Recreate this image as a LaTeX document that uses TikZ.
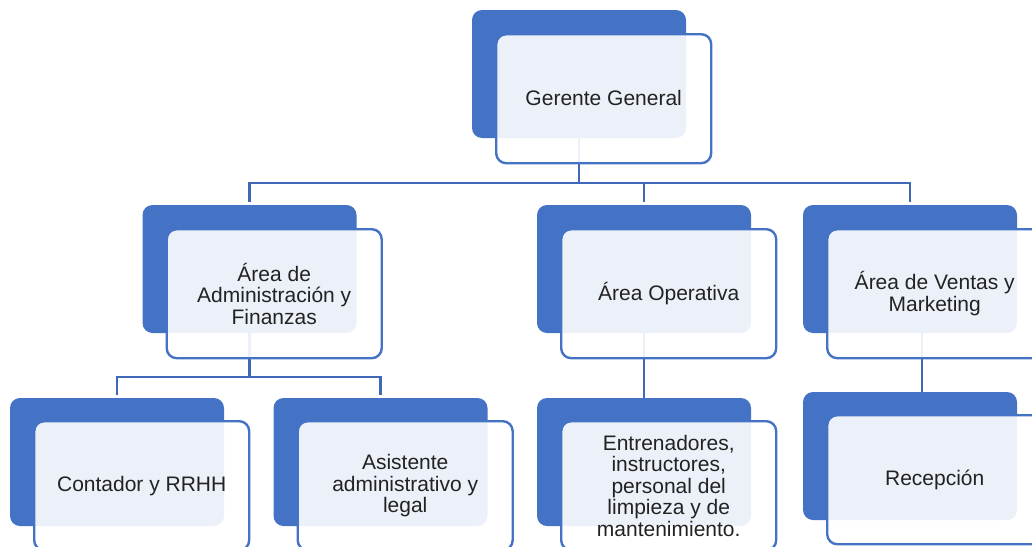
\documentclass[tikz,border=0pt]{standalone}
\usepackage{fontspec}
\setmainfont{Liberation Sans}
\usepackage{xcolor}
\usetikzlibrary{positioning}
\definecolor{boxblue}{HTML}{4472C4}
\definecolor{lineblue}{HTML}{4068B8}
\definecolor{textgray}{HTML}{222222}

\begin{document}
\begin{tikzpicture}[x=1pt, y=-1pt,
back/.style={rectangle, fill=boxblue, rounded corners=10pt, minimum width=214pt, minimum height=128pt, inner sep=0pt, outer sep=0pt},
front/.style={rectangle, draw=boxblue, line width=2.4pt, fill=white, fill opacity=0.9, text opacity=1, text=textgray, rounded corners=10pt, minimum width=215pt, minimum height=129pt, inner sep=0pt, align=center, font=\fontsize{21pt}{21.5pt}\selectfont},
conn/.style={draw=lineblue, line width=2.6pt, shorten >=3pt}
]
	\useasboundingbox (0,0) rectangle (1032,546);

	\node[back] (b1) at (579,74) {};
	\node[back] (b2) at (249.5,269) {};
	\node[back] (b3) at (644,269) {};
	\node[back] (b4) at (910,269) {};
	\node[back] (b5) at (117,462) {};
	\node[back] (b6) at (380.5,462) {};
	\node[back] (b7) at (644,462) {};
	\node[back] (b8) at (910,456) {};

	\coordinate (j1) at ([yshift=-45pt]b1.south);
	\coordinate (j2) at ([yshift=-44pt]b2.south);
	\draw[conn, shorten >=0pt] (b1.south) -- (j1);
	\draw[conn] (j1) -| (b2.north);
	\draw[conn] (j1) -| (b3.north);
	\draw[conn] (j1) -| (b4.north);
	\draw[conn, shorten >=0pt] (b2.south) -- (j2);
	\draw[conn] (j2) -| (b5.north);
	\draw[conn] (j2) -| (b6.north);
	\draw[conn, shorten >=0pt] (b3.south) -- (b7.north);
	\draw[conn, shorten >=0pt] ([xshift=12pt]b4.south) -- ([xshift=12pt]b8.north);

	\node[front, anchor=north west, shift={(23pt,-23pt)}] (n1) at (b1.north west) {\raisebox{2pt}{Gerente General}};
	\node[front, anchor=north west, shift={(23pt,-23pt)}] (n2) at (b2.north west) {Área de\\Administración y\\Finanzas};
	\node[front, anchor=north west, shift={(23pt,-23pt)}] (n3) at (b3.north west) {\raisebox{2pt}{Área Operativa}};
	\node[front, anchor=north west, shift={(23pt,-23pt)}] (n4) at (b4.north west) {Área de Ventas y\\Marketing};
	\node[front, anchor=north west, shift={(23pt,-22pt)}] (n5) at (b5.north west) {Contador y RRHH};
	\node[front, anchor=north west, shift={(23pt,-22pt)}] (n6) at (b6.north west) {Asistente\\administrativo y\\legal};
	\node[front, anchor=north west, shift={(23pt,-22pt)}] (n7) at (b7.north west) {Entrenadores,\\instructores,\\personal del\\limpieza y de\\mantenimiento.};
	\node[front, anchor=north west, shift={(23pt,-22pt)}] (n8) at (b8.north west) {Recepción};
\end{tikzpicture}
\end{document}
